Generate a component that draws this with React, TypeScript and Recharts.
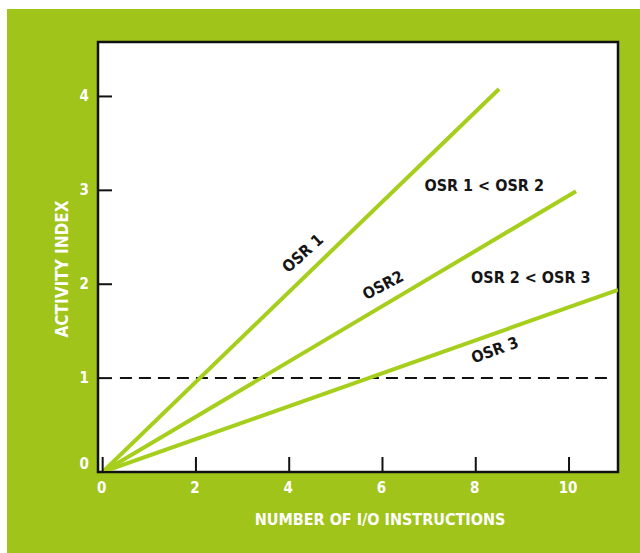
import React from 'react';
import {
  LineChart, Line, XAxis, YAxis, CartesianGrid,
  ReferenceLine, ReferenceArea, ReferenceDot, Label,
} from 'recharts';

// ── Data ──────────────────────────────────────────────────────────────────────
const X_TICKS = [0, 2, 4, 6, 8, 10];
const Y_TICKS = [0, 1, 2, 3, 4];
const X_DOMAIN: [number, number] = [-0.1, 11.05];
const Y_DOMAIN: [number, number] = [0, 4.58];

const OSR1 = [{ x: 0, y: 0 }, { x: 8.5, y: 4.08 }];
const OSR2 = [{ x: 0, y: 0 }, { x: 10.15, y: 2.99 }];
const OSR3 = [{ x: 0, y: 0 }, { x: 11.05, y: 1.94 }];

const THRESHOLD = 1;
const THRESHOLD_FROM = 0.37;
const THRESHOLD_TO = 10.92;

const NOTES = [
  { text: 'OSR 1', x: 4.29, y: 2.33, angle: -42 },
  { text: 'OSR2', x: 6.01, y: 1.99, angle: -28 },
  { text: 'OSR 3', x: 8.41, y: 1.3, angle: -20 },
  { text: 'OSR 1 < OSR 2', x: 8.18, y: 3.05, angle: 0 },
  { text: 'OSR 2 < OSR 3', x: 9.18, y: 2.07, angle: 0 },
];

const X_TITLE = 'NUMBER OF I/O INSTRUCTIONS';
const Y_TITLE = 'ACTIVITY INDEX';

// ── Styles ────────────────────────────────────────────────────────────────────
const COLORS = {
  page: '#ffffff',
  green: '#a0c41a',
  line: '#a6ce1c',
  frame: '#111111',
  label: '#ffffff',
  note: '#151515',
};
const FONT = '"Liberation Sans Narrow", "DejaVu Sans Condensed", sans-serif';

const YTick = (props: any) => {
  const { x, y, payload } = props;
  // the zero label sits a little above the corner in the original
  const ty = payload.value === 0 ? y - 3 : y + 5;
  return (
    <g>
      <line x1={x} y1={y} x2={x + 14} y2={y} stroke={COLORS.frame} strokeWidth={2} />
      <text x={x - 9} y={ty} textAnchor="end" fill={COLORS.label}
            fontFamily={FONT} fontWeight="bold" fontSize={15}>{payload.value}</text>
    </g>
  );
};

const XTick = (props: any) => {
  const { x, y, payload } = props;
  return (
    <g>
      <line x1={x} y1={y} x2={x} y2={y - 15} stroke={COLORS.frame} strokeWidth={2} />
      <text x={x - 1} y={y + 21} textAnchor="middle" fill={COLORS.label}
            fontFamily={FONT} fontWeight="bold" fontSize={15}>{payload.value}</text>
    </g>
  );
};

const noteShape = (text: string, angle: number) => (p: any) => (
  <text x={p.cx} y={p.cy} textAnchor="middle" dominantBaseline="central"
        transform={`rotate(${angle}, ${p.cx}, ${p.cy})`}
        fill={COLORS.note} fontFamily={FONT} fontWeight="bold" fontSize={16}>{text}</text>
);

export default function App() {
  return (
    <div style={{ position: 'relative', width: 640, height: 553, background: COLORS.page, overflow: 'hidden' }}>
      <style>{'body{margin:0}'}</style>
      <div style={{ position: 'absolute', left: 7, top: 9, right: 0, bottom: 0, background: COLORS.green }} />
      <div style={{ position: 'absolute', left: 0, top: 0 }}>
        <LineChart width={640} height={553} margin={{ top: 42, right: 22, bottom: 0, left: 0 }}>
          <CartesianGrid horizontal={false} vertical={false} fill="#ffffff" />
          <XAxis type="number" dataKey="x" domain={X_DOMAIN} ticks={X_TICKS} allowDataOverflow
                 height={81} axisLine={false} tickLine={false} tickSize={0} tickMargin={0}
                 tick={<XTick />} interval={0}>
            <Label content={({ viewBox }: any) => (
              <text x={viewBox.x + viewBox.width / 2 + 22} y={viewBox.y + 53} textAnchor="middle"
                    fill={COLORS.label} fontFamily={FONT} fontWeight="bold" fontSize={16}>{X_TITLE}</text>
            )} />
          </XAxis>
          <YAxis type="number" domain={Y_DOMAIN} ticks={Y_TICKS} allowDataOverflow
                 width={98} axisLine={false} tickLine={false} tickSize={0} tickMargin={0}
                 tick={<YTick />} interval={0}>
            <Label content={({ viewBox }: any) => {
              const cx = 62;
              const cy = viewBox.y + viewBox.height / 2 + 12;
              return (
                <text x={cx} y={cy} textAnchor="middle" dominantBaseline="central"
                      transform={`rotate(-90, ${cx}, ${cy})`}
                      fill={COLORS.label} fontFamily={FONT} fontWeight="bold" fontSize={17}>{Y_TITLE}</text>
              );
            }} />
          </YAxis>
          <ReferenceLine segment={[{ x: THRESHOLD_FROM, y: THRESHOLD }, { x: THRESHOLD_TO, y: THRESHOLD }]}
                         stroke={COLORS.frame} strokeWidth={2} strokeDasharray="12 7" ifOverflow="visible" />
          <Line data={OSR1} dataKey="y" type="linear" stroke={COLORS.line} strokeWidth={4} dot={false} isAnimationActive={false} />
          <Line data={OSR2} dataKey="y" type="linear" stroke={COLORS.line} strokeWidth={4} dot={false} isAnimationActive={false} />
          <Line data={OSR3} dataKey="y" type="linear" stroke={COLORS.line} strokeWidth={4} dot={false} isAnimationActive={false} />
          {NOTES.map(n => (
            <ReferenceDot key={n.text} x={n.x} y={n.y} r={0} ifOverflow="visible" shape={noteShape(n.text, n.angle)} />
          ))}
          <ReferenceArea x1={X_DOMAIN[0]} x2={X_DOMAIN[1]} y1={Y_DOMAIN[0]} y2={Y_DOMAIN[1]}
                         fill="none" stroke={COLORS.frame} strokeWidth={2.5} ifOverflow="visible" />
        </LineChart>
      </div>
    </div>
  );
}
